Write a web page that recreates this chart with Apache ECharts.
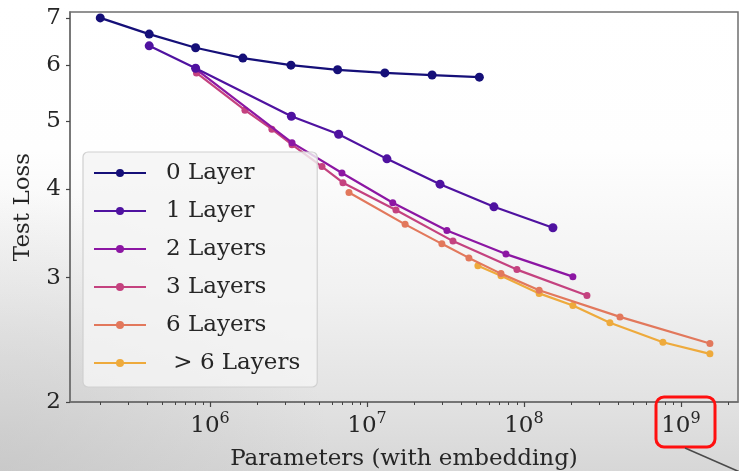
<!DOCTYPE html>
<html>
<head>
<meta charset="utf-8">
<script src="https://cdn.jsdelivr.net/npm/echarts@6/dist/echarts.min.js"></script>
<style>
  html, body { margin: 0; padding: 0; }
  body {
    width: 739px; height: 471px; overflow: hidden;
    background:
      radial-gradient(ellipse 45% 60% at 0% 100%, rgba(190,190,190,0.55) 0%, rgba(190,190,190,0) 100%),
      linear-gradient(to bottom, #ffffff 0%, #fefefe 32%, #f1f1f1 62%, #e3e3e3 84%, #d7d7d7 100%);
  }
  #chart { width: 739px; height: 471px; }
</style>
</head>
<body>
<div id="chart"></div>
<script>
// Test loss vs. parameter count, one curve per depth
const seriesNames = ['0 Layer', '1 Layer', '2 Layers', '3 Layers', '6 Layers', ' > 6 Layers'];
const seriesColors = ['#150f78', '#4f12a0', '#8c16a3', '#c4427f', '#e2785c', '#eeaa3c'];

const layer0Params = [2e5, 4.1e5, 8.1e5, 1.62e6, 3.28e6, 6.5e6, 1.3e7, 2.6e7, 5.2e7];
const layer0Loss   = [7.0, 6.64, 6.35, 6.14, 6.0, 5.91, 5.85, 5.81, 5.77];

const layer1Params = [4.1e5, 8.1e5, 3.3e6, 6.6e6, 1.34e7, 2.92e7, 6.44e7, 1.53e8];
const layer1Loss   = [6.39, 5.94, 5.08, 4.79, 4.42, 4.07, 3.78, 3.53];

const layer2Params = [8.1e5, 3.33e6, 6.93e6, 1.46e7, 3.23e7, 7.68e7, 2.05e8];
const layer2Loss   = [5.93, 4.66, 4.22, 3.83, 3.50, 3.24, 3.01];

const layer3Params = [8.2e5, 1.67e6, 2.48e6, 3.33e6, 5.17e6, 7.03e6, 1.53e7, 3.53e7, 9.02e7, 2.52e8];
const layer3Loss   = [5.85, 5.18, 4.87, 4.63, 4.31, 4.09, 3.74, 3.38, 3.08, 2.83];

const layer6Params = [7.68e6, 1.75e7, 3.0e7, 4.46e7, 7.14e7, 1.25e8, 4.09e8, 1.53e9];
const layer6Loss   = [3.96, 3.57, 3.35, 3.20, 3.04, 2.88, 2.64, 2.42];

const layerDeepParams = [5.09e7, 7.14e7, 1.25e8, 2.05e8, 3.53e8, 7.68e8, 1.53e9];
const layerDeepLoss   = [3.12, 3.02, 2.85, 2.74, 2.59, 2.43, 2.34];

const yTickValues = [2, 3, 4, 5, 6, 7];
const xMajorTicks = [1e6, 1e7, 1e8, 1e9];
const xMinorTicks = [];
[1e5, 1e6, 1e7, 1e8, 1e9].forEach(function (d) {
  for (let m = 2; m <= 9; m++) xMinorTicks.push(m * d);
});

const xRange = [1.283e5, 2.31e9];
const yRange = [2, 7.136];

const FONT = 'DejaVu Serif';
const TEXT = '#262626';
const SPINE = '#6f6f6f';

function zip(xs, ys) { return xs.map(function (x, i) { return [x, ys[i]]; }); }

const curves = [
  zip(layer0Params, layer0Loss),
  zip(layer1Params, layer1Loss),
  zip(layer2Params, layer2Loss),
  zip(layer3Params, layer3Loss),
  zip(layer6Params, layer6Loss),
  zip(layerDeepParams, layerDeepLoss)
];

const chart = echarts.init(document.getElementById('chart'), null, { renderer: 'canvas' });

chart.setOption({
  backgroundColor: 'transparent',
  animation: false,
  grid: {
    left: 70, right: 1, top: 12, bottom: 69,
    outerBoundsMode: 'none', containLabel: false,
    show: true, borderColor: SPINE, borderWidth: 1.5, backgroundColor: 'transparent'
  },
  xAxis: [
    {
      type: 'log', logBase: 10, min: xRange[0], max: xRange[1],
      name: 'Parameters (with embedding)', nameLocation: 'middle', nameGap: 46,
      nameTextStyle: { fontFamily: FONT, fontSize: 23, color: TEXT },
      axisLine: { show: true, lineStyle: { color: SPINE, width: 1.5 } },
      axisTick: { show: true, customValues: xMajorTicks, length: 5, inside: false, lineStyle: { color: '#444', width: 1.2 } },
      axisLabel: {
        customValues: xMajorTicks, margin: 9, color: TEXT, fontFamily: FONT,
        formatter: function (v) { return '{b|10}{s|' + Math.round(Math.log10(v)) + '}'; },
        rich: {
          b: { fontFamily: FONT, fontSize: 23, color: TEXT, lineHeight: 27, verticalAlign: 'bottom' },
          s: { fontFamily: FONT, fontSize: 16, color: TEXT, lineHeight: 27, verticalAlign: 'top' }
        }
      },
      splitLine: { show: false }
    },
    {
      type: 'log', logBase: 10, min: xRange[0], max: xRange[1], position: 'bottom',
      axisLine: { show: false },
      axisTick: { show: true, customValues: xMinorTicks, length: 3, lineStyle: { color: '#444', width: 1 } },
      axisLabel: { show: false },
      splitLine: { show: false }
    }
  ],
  yAxis: {
    type: 'log', logBase: 10, min: yRange[0], max: yRange[1],
    name: 'Test Loss', nameLocation: 'middle', nameGap: 35,
    nameTextStyle: { fontFamily: FONT, fontSize: 23, color: TEXT },
    axisLine: { show: true, lineStyle: { color: SPINE, width: 1.5 } },
    axisTick: { show: true, customValues: yTickValues, length: 4, lineStyle: { color: '#444', width: 1.2 } },
    axisLabel: { customValues: yTickValues, margin: 9, fontFamily: FONT, fontSize: 23, color: TEXT },
    splitLine: { show: false }
  },
  legend: {
    left: 83, top: 152, orient: 'vertical',
    data: seriesNames,
    itemWidth: 52, itemHeight: 10, itemGap: 10,
    padding: [7, 17, 10, 10],
    backgroundColor: 'rgba(244,244,244,0.82)',
    borderColor: '#d0d0d0', borderWidth: 1.2, borderRadius: 5,
    textStyle: { fontFamily: FONT, fontSize: 23, color: TEXT, lineHeight: 28, padding: [0, 0, 0, 15] }
  },
  series: curves.map(function (data, i) {
    return {
      name: seriesNames[i], type: 'line', xAxisIndex: 0, yAxisIndex: 0,
      data: data, symbol: 'circle', symbolSize: i < 2 ? 9 : 7,
      color: seriesColors[i],
      lineStyle: { width: 2.2, color: seriesColors[i] },
      itemStyle: { color: seriesColors[i] },
      z: 2 + (5 - i) * 0.01
    };
  }),
  graphic: [
    {
      type: 'rect', shape: { x: 656, y: 397, width: 59, height: 50, r: 8 },
      style: { fill: 'transparent', stroke: '#ff1010', lineWidth: 3 }, z: 10
    },
    {
      type: 'line', shape: { x1: 685, y1: 448, x2: 742, y2: 473 },
      style: { stroke: '#4a4a4a', lineWidth: 1.5 }, z: 10
    }
  ]
});
</script>
</body>
</html>
